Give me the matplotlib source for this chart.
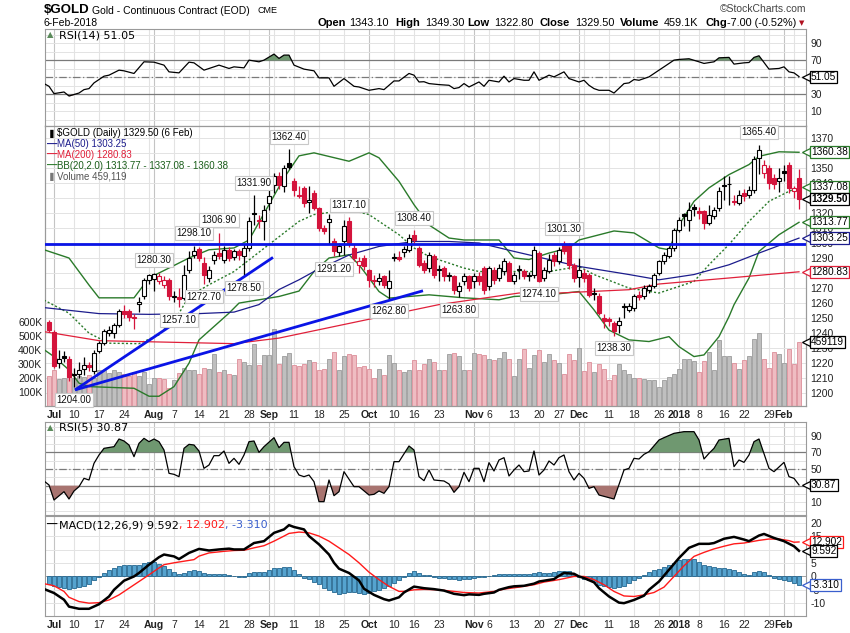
import numpy as np
import pandas as pd
import matplotlib
matplotlib.use("Agg")
import matplotlib.pyplot as plt

W, H = 850, 633

# trading calendar for the continuous contract (days missing from the feed)
holidays = pd.to_datetime(["2017-07-04", "2017-09-04", "2017-10-09", "2017-11-23",
                           "2017-12-25", "2018-01-01", "2018-01-15"])
days = pd.bdate_range("2017-06-30", "2018-02-06")
days = days[~days.isin(holidays)]

tick_dates = ["2017-07-03", "2017-07-10", "2017-07-17", "2017-07-24", "2017-08-01", "2017-08-07",
              "2017-08-14", "2017-08-21", "2017-08-28", "2017-09-01", "2017-09-11", "2017-09-18",
              "2017-09-25", "2017-10-02", "2017-10-10", "2017-10-16", "2017-10-23", "2017-11-01",
              "2017-11-06", "2017-11-13", "2017-11-20", "2017-11-27", "2017-12-01", "2017-12-11",
              "2017-12-18", "2017-12-26", "2018-01-02", "2018-01-08", "2018-01-16", "2018-01-22",
              "2018-01-29", "2018-02-01"]
tick_labels = ["Jul", "10", "17", "24", "Aug", "7", "14", "21", "28", "Sep", "11", "18", "25",
               "Oct", "10", "16", "23", "Nov", "6", "13", "20", "27", "Dec", "11", "18", "26",
               "2018", "8", "16", "22", "29", "Feb"]
month_labels = {"Jul", "Aug", "Sep", "Oct", "Nov", "Dec", "2018", "Feb"}

# daily OHLC, Jun 30 2017 .. Feb 6 2018
opens = [1247.5, 1241.0, 1220.0, 1225.0, 1223.0, 1212.0, 1213.0, 1216.0, 1219.0, 1214.5,
         1227.8, 1233.3, 1240.0, 1240.0, 1245.6, 1255.0, 1254.5, 1251.0, 1259.5, 1264.5,
         1275.5, 1276.2, 1274.5, 1272.2, 1275.6, 1264.0, 1264.0, 1263.3, 1282.2, 1292.2,
         1296.2, 1286.7, 1276.7, 1288.9, 1293.3, 1288.9, 1295.6, 1291.0, 1294.9, 1291.1,
         1296.7, 1319.7, 1315.0, 1314.4, 1326.7, 1338.9, 1344.4, 1337.8, 1353.3, 1341.1,
         1332.2, 1336.7, 1327.3, 1333.3, 1323.3, 1310.0, 1314.0, 1301.1, 1293.8, 1301.1,
         1314.4, 1296.7, 1285.6, 1290.0, 1282.2, 1274.5, 1274.5, 1277.8, 1270.0, 1290.5,
         1290.5, 1294.0, 1295.6, 1305.6, 1296.7, 1286.7, 1283.3, 1291.1, 1282.0, 1283.3,
         1277.8, 1277.8, 1267.8, 1274.5, 1277.8, 1274.5, 1277.8, 1283.3, 1271.1, 1282.2,
         1276.7, 1281.1, 1286.7, 1274.9, 1282.0, 1281.1, 1278.5, 1278.9, 1293.3, 1276.7,
         1281.1, 1292.2, 1287.8, 1299.5, 1298.9, 1285.6, 1277.1, 1280.0, 1278.9, 1266.5,
         1265.0, 1250.0, 1249.5, 1246.7, 1245.6, 1257.5, 1255.6, 1256.7, 1265.6, 1264.5,
         1269.0, 1271.1, 1280.0, 1287.8, 1291.1, 1296.7, 1308.9, 1319.4, 1315.6, 1323.8,
         1321.5, 1321.1, 1313.3, 1317.8, 1323.3, 1338.3, 1339.0, 1328.0, 1326.7, 1333.3,
         1332.2, 1335.5, 1356.7, 1346.7, 1350.0, 1343.3, 1341.1, 1347.8, 1352.2, 1334.5,
         1343.1]
highs = [1249.0, 1242.0, 1229.0, 1228.0, 1225.0, 1216.5, 1221.0, 1224.0, 1221.0, 1229.0,
         1235.0, 1243.0, 1245.0, 1247.0, 1256.0, 1259.0, 1256.0, 1253.0, 1264.0, 1277.0,
         1279.5, 1280.3, 1280.0, 1278.0, 1277.0, 1268.0, 1270.0, 1285.5, 1294.5, 1298.1,
         1297.0, 1291.0, 1285.0, 1295.0, 1306.9, 1298.0, 1297.0, 1296.0, 1296.0, 1299.0,
         1317.0, 1331.9, 1318.9, 1325.5, 1335.5, 1346.7, 1347.0, 1352.0, 1362.4, 1343.0,
         1337.8, 1338.0, 1337.8, 1335.0, 1324.0, 1312.0, 1319.0, 1303.0, 1300.0, 1315.5,
         1317.1, 1299.0, 1291.0, 1292.0, 1283.0, 1278.9, 1280.0, 1279.0, 1282.0, 1293.3,
         1295.0, 1298.0, 1306.0, 1308.4, 1298.0, 1289.0, 1294.0, 1292.5, 1285.5, 1285.0,
         1281.0, 1279.0, 1274.0, 1280.0, 1279.0, 1280.0, 1281.0, 1285.0, 1285.0, 1284.0,
         1286.0, 1290.0, 1288.0, 1281.0, 1285.5, 1283.0, 1281.0, 1298.0, 1295.0, 1284.0,
         1293.0, 1294.0, 1297.0, 1301.3, 1300.0, 1287.0, 1290.0, 1283.0, 1280.0, 1270.0,
         1267.0, 1253.0, 1251.0, 1248.0, 1251.0, 1260.0, 1260.0, 1266.0, 1268.0, 1272.0,
         1273.0, 1280.0, 1289.0, 1294.0, 1298.0, 1310.0, 1317.0, 1320.0, 1327.5, 1326.0,
         1324.0, 1322.0, 1325.0, 1324.0, 1337.0, 1344.5, 1344.5, 1332.0, 1335.0, 1336.0,
         1338.0, 1358.0, 1365.4, 1355.0, 1352.0, 1346.0, 1350.0, 1352.0, 1354.0, 1338.0,
         1349.3]
lows = [1240.5, 1217.0, 1217.0, 1221.0, 1208.0, 1204.0, 1210.0, 1212.0, 1215.0, 1213.0,
        1226.5, 1232.0, 1238.0, 1237.0, 1244.0, 1250.0, 1248.0, 1243.0, 1254.0, 1263.0,
        1273.0, 1267.8, 1273.0, 1270.0, 1262.0, 1261.0, 1257.1, 1262.0, 1280.0, 1290.0,
        1288.0, 1272.7, 1274.0, 1286.0, 1289.5, 1287.0, 1288.0, 1289.0, 1289.0, 1278.5,
        1295.0, 1312.2, 1310.0, 1302.2, 1322.2, 1333.0, 1336.0, 1334.0, 1349.0, 1331.0,
        1330.0, 1324.0, 1320.0, 1322.0, 1307.8, 1306.0, 1299.0, 1291.2, 1291.5, 1292.2,
        1297.0, 1287.8, 1280.0, 1282.0, 1271.0, 1271.0, 1272.0, 1270.0, 1262.8, 1287.8,
        1288.0, 1291.0, 1294.0, 1299.0, 1284.0, 1280.0, 1281.0, 1277.0, 1274.4, 1275.0,
        1274.4, 1266.0, 1263.8, 1272.0, 1268.0, 1270.0, 1272.0, 1266.0, 1269.0, 1273.0,
        1275.0, 1279.0, 1275.0, 1273.0, 1276.0, 1276.0, 1275.0, 1277.0, 1274.1, 1275.0,
        1280.0, 1285.0, 1286.0, 1293.0, 1283.0, 1274.0, 1271.0, 1274.0, 1264.0, 1262.0,
        1252.0, 1243.5, 1244.5, 1238.3, 1240.0, 1250.0, 1254.0, 1255.0, 1262.0, 1263.0,
        1267.0, 1270.0, 1279.0, 1286.0, 1290.0, 1295.0, 1307.0, 1311.0, 1307.8, 1318.0,
        1316.0, 1309.0, 1312.0, 1316.0, 1321.0, 1328.9, 1325.5, 1325.0, 1325.0, 1328.0,
        1330.0, 1333.0, 1345.6, 1343.0, 1336.0, 1336.0, 1334.0, 1341.0, 1333.0, 1330.0,
        1322.8]
closes = [1242.3, 1218.0, 1222.5, 1223.3, 1211.0, 1212.5, 1215.5, 1219.0, 1217.5, 1226.7,
          1233.3, 1241.1, 1242.0, 1245.6, 1254.5, 1252.5, 1251.0, 1250.0, 1260.5, 1275.6,
          1278.5, 1279.3, 1277.8, 1275.6, 1264.5, 1265.0, 1263.0, 1278.9, 1290.0, 1294.4,
          1290.0, 1278.9, 1282.2, 1292.2, 1291.1, 1295.6, 1290.0, 1294.4, 1291.8, 1296.7,
          1314.4, 1319.3, 1314.4, 1322.2, 1331.0, 1344.4, 1338.9, 1350.0, 1350.5, 1335.5,
          1331.1, 1326.7, 1328.9, 1323.3, 1310.0, 1308.2, 1316.0, 1294.4, 1297.8, 1311.1,
          1300.0, 1290.0, 1287.8, 1284.5, 1275.6, 1275.2, 1276.7, 1272.2, 1274.5, 1290.3,
          1289.5, 1296.2, 1303.3, 1302.2, 1285.6, 1282.2, 1292.2, 1278.9, 1282.4, 1277.8,
          1278.9, 1268.9, 1271.1, 1277.8, 1270.0, 1277.8, 1274.5, 1268.9, 1283.3, 1275.6,
          1283.3, 1287.8, 1274.4, 1278.9, 1282.5, 1277.8, 1278.2, 1295.6, 1274.4, 1282.2,
          1288.9, 1287.8, 1295.6, 1295.0, 1285.6, 1276.7, 1282.2, 1277.0, 1265.6, 1265.8,
          1253.3, 1248.0, 1247.8, 1241.1, 1247.8, 1258.0, 1258.3, 1264.5, 1264.2, 1270.0,
          1271.1, 1278.9, 1287.8, 1292.2, 1296.7, 1308.9, 1315.6, 1317.8, 1322.2, 1322.5,
          1320.0, 1313.3, 1318.9, 1322.2, 1334.5, 1337.9, 1339.2, 1327.0, 1332.2, 1331.1,
          1335.5, 1355.6, 1362.2, 1352.2, 1340.0, 1339.5, 1343.3, 1346.7, 1336.7, 1336.5,
          1329.5]
prev_close_first = 1247.0
volume_k = [213, 260, 190, 200, 250, 200, 215, 205, 220, 200, 255, 261, 235, 261, 244, 232, 213,
            244, 213, 244, 155, 204, 204, 196, 132, 189, 237, 276, 261, 256, 232, 276, 268, 376,
            244, 261, 232, 220, 340, 316, 292, 448, 292, 364, 364, 549, 299, 357, 381, 292, 285,
            299, 328, 316, 261, 268, 340, 388, 256, 357, 376, 364, 280, 285, 268, 204, 268, 220,
            364, 309, 256, 244, 261, 328, 256, 299, 340, 316, 256, 261, 371, 381, 357, 256, 261,
            381, 371, 364, 340, 328, 347, 388, 340, 213, 340, 412, 275, 369, 400, 316, 376, 328,
            309, 228, 371, 332, 419, 251, 316, 244, 304, 268, 189, 220, 299, 256, 232, 204, 204,
            196, 189, 184, 136, 189, 208, 228, 268, 340, 340, 323, 244, 321, 388, 256, 472, 357,
            357, 309, 268, 328, 357, 477, 525, 335, 275, 388, 371, 309, 412, 299, 459]
last_volume = 459119

# overlays (day index, value)
ma50_idx = [-1, 10, 20, 30, 37, 42, 46, 50, 53, 60, 66, 73, 80, 86, 93, 100, 106, 116, 122, 129, 136, 142, 150]
ma50 = [1257, 1253, 1252.5, 1253, 1254, 1259, 1269, 1275.5, 1281, 1292, 1297.7, 1301, 1301, 1300,
        1294.4, 1289, 1284.4, 1279, 1275.5, 1279, 1285.5, 1293.3, 1303.25]
ma200_idx = [-1, 10, 37, 46, 78, 94, 102, 116, 122, 136, 150]
ma200 = [1241, 1235, 1233, 1236.7, 1259, 1266.7, 1266.7, 1268.9, 1272.7, 1276.7, 1280.83]
bb_up_idx = [-1, 4, 8, 10, 17, 20, 28, 32, 37, 40, 44, 47, 50, 53, 60, 64, 66, 70, 73, 76, 80, 83,
             90, 93, 96, 100, 104, 106, 113, 117, 122, 124, 126, 129, 132, 136, 140, 142, 146, 150]
bb_up = [1295.5, 1290, 1272, 1263.5, 1263.5, 1276.7, 1290, 1295.5, 1296.7, 1302, 1325.5, 1343.3,
         1358, 1360, 1354.4, 1360, 1356.7, 1341, 1325.5, 1312, 1303.3, 1302, 1302, 1290, 1289,
         1293.3, 1296.7, 1302, 1308, 1306.7, 1296.7, 1295.5, 1312, 1327.7, 1336.7, 1345.5,
         1352.2, 1357.7, 1360.7, 1360.38]
bb_lo_idx = [-1, 1, 4, 6, 8, 17, 20, 22, 25, 28, 30, 36, 38, 44, 46, 50, 53, 56, 60, 62, 64, 66,
             68, 76, 83, 90, 93, 100, 106, 109, 112, 116, 120, 124, 126, 129, 131, 134, 136, 137,
             140, 142, 146, 150]
bb_lo = [1229, 1224.4, 1215.5, 1206.7, 1204.4, 1203.3, 1198, 1198, 1204.4, 1220, 1235.5, 1253.3,
         1260, 1263.3, 1264.4, 1268, 1281, 1290, 1292.2, 1285.5, 1276.7, 1267.7, 1263.3, 1265.5,
         1263.5, 1262.2, 1264.4, 1265.5, 1267.7, 1255.5, 1242, 1235.5, 1234.4, 1237.7, 1231,
         1224.4, 1225.5, 1237.7, 1251, 1258.9, 1276.7, 1294.4, 1305.5, 1313.77]
bb_mid_idx = [-1, 4, 8, 12, 18, 22, 26, 28, 32, 37, 44, 50, 53, 60, 64, 70, 73, 76, 83, 86, 93,
              100, 106, 109, 116, 122, 129, 132, 136, 140, 144, 148, 150]
bb_mid = [1262, 1253.3, 1240, 1233.3, 1233, 1238.9, 1253.3, 1264.4, 1272.2, 1281, 1299, 1314.4,
          1318.9, 1322.2, 1318.9, 1305.5, 1296.7, 1291, 1283.3, 1281, 1281, 1281, 1284.4, 1279,
          1270, 1266.7, 1274.4, 1285.5, 1299, 1314.4, 1327.7, 1334.4, 1337.08]

# hand drawn lines (day index, price)
support_level = 1299.3
trend1_idx, trend1 = [5.2, 44.8], [1202.2, 1290.4]
trend2_idx, trend2 = [5.2, 74.8], [1202.2, 1268.2]

# labelled swing highs / lows
swing_idx = [5, 21, 26, 29, 31, 34, 39, 41, 48, 57, 60, 68, 73, 82, 98, 103, 113, 142]
swing_kind = ["L", "H", "L", "H", "L", "H", "L", "H", "H", "L", "H", "L", "H", "L", "L", "H", "L", "H"]

rsi14_idx = [-1, 0, 1, 3, 4, 6, 7, 8, 9, 11, 12, 14, 15, 17, 19, 21, 23, 24, 26, 28, 29, 31, 33, 34,
             36, 37, 39, 40, 42, 43, 45, 46, 47, 48, 49, 51, 53, 54, 56, 57, 59, 61, 62, 64, 66, 67,
             69, 70, 72, 73, 74, 75, 76, 78, 80, 81, 82, 83, 84, 86, 87, 88, 90, 91, 92, 93, 95, 96,
             97, 98, 100, 101, 103, 104, 106, 107, 108, 109, 110, 112, 113, 115, 116, 117, 118, 120,
             122, 123, 125, 126, 128, 130, 131, 133, 134, 136, 137, 139, 140, 141, 142, 144, 146,
             147, 148, 149, 150]
rsi14 = [42.8, 39.6, 31.0, 32.9, 28.2, 31.7, 35.7, 36.9, 43.6, 51.5, 52.7, 58.6, 57.8, 54.7, 68.4,
         68.0, 64.5, 56.6, 55.4, 68.0, 67.2, 58.6, 62.5, 64.5, 60.6, 62.5, 61.3, 70.4, 68.4, 70.4,
         77.5, 72.4, 76.3, 76.3, 64.5, 59.8, 57.8, 49.5, 49.5, 39.6, 48.7, 39.6, 38.8, 34.9, 36.9,
         35.7, 45.9, 45.9, 54.7, 52.7, 44.7, 45.0, 42.8, 41.6, 40.8, 36.9, 38.1, 42.8, 38.8, 44.7,
         39.6, 46.7, 44.7, 51.5, 44.7, 48.7, 46.7, 46.7, 56.6, 46.7, 52.7, 50.7, 56.6, 48.7, 44.7,
         46.7, 40.8, 36.9, 34.9, 34.9, 31.7, 42.8, 43.6, 47.6, 46.7, 50.7, 58.6, 62.5, 70.4, 71.2,
         72.0, 68.4, 66.5, 68.4, 73.1, 73.6, 65.7, 67.2, 67.6, 73.6, 75.5, 59.8, 60.6, 62.5, 56.6,
         55.4, 51.05]

rsi5_idx = [-1, 0, 1, 3, 4, 5, 6, 7, 8, 9, 10, 11, 13, 14, 15, 16, 17, 18, 19, 20, 21, 22, 23, 24,
            25, 26, 27, 28, 29, 30, 31, 32, 33, 34, 35, 36, 37, 38, 39, 40, 41, 42, 43, 45, 46, 47,
            48, 49, 50, 51, 52, 53, 54, 55, 56, 57, 58, 59, 61, 62, 64, 65, 66, 67, 68, 69, 70, 72,
            73, 74, 75, 76, 77, 79, 80, 81, 82, 83, 84, 85, 86, 87, 88, 89, 90, 91, 92, 93, 94, 95,
            96, 97, 98, 99, 100, 101, 102, 103, 104, 105, 106, 107, 108, 109, 110, 112, 113, 115,
            116, 117, 118, 119, 120, 122, 123, 125, 127, 129, 130, 131, 132, 133, 134, 136, 137,
            138, 139, 140, 141, 142, 144, 145, 147, 148, 149, 150]
rsi5 = [35.6, 30.8, 12.8, 22.8, 14.0, 23.6, 28.8, 38.8, 36.8, 56.8, 66.8, 74.8, 76.8, 86.0, 83.6,
        78.8, 64.8, 80.8, 86.8, 82.8, 86.0, 82.8, 72.8, 44.8, 43.6, 40.8, 74.8, 79.6, 78.8, 71.6,
        50.8, 54.8, 66.0, 66.0, 71.6, 56.8, 62.8, 55.6, 66.8, 82.8, 83.6, 70.0, 76.8, 87.6, 75.6,
        82.0, 82.0, 52.8, 42.8, 40.8, 42.8, 34.8, 10.8, 10.8, 36.8, 18.0, 22.8, 46.8, 28.8, 28.8,
        18.8, 19.6, 23.6, 20.8, 28.8, 58.8, 58.8, 77.6, 72.8, 40.8, 36.0, 48.8, 36.8, 35.6, 32.0,
        22.0, 28.8, 46.0, 34.8, 50.8, 50.8, 34.8, 57.6, 47.6, 60.8, 63.6, 41.6, 48.8, 54.8, 46.8,
        47.6, 71.6, 42.8, 48.8, 59.6, 54.8, 63.6, 66.8, 46.8, 36.8, 44.8, 38.8, 26.8, 28.8, 18.8,
        15.6, 14.0, 48.8, 50.8, 62.8, 62.0, 67.6, 70.8, 84.8, 87.6, 92.8, 94.8, 94.8, 84.8, 62.0,
        68.8, 74.8, 84.8, 86.8, 52.8, 60.8, 58.0, 66.8, 82.8, 86.0, 50.8, 46.8, 58.0, 40.8, 38.8,
        30.87]

macd_idx = [-1, 1, 3, 4, 6, 8, 10, 12, 13, 15, 17, 18, 20, 22, 23, 25, 26, 28, 30, 32, 34, 36, 37,
            39, 41, 43, 45, 47, 48, 49, 51, 52, 54, 56, 57, 58, 60, 62, 63, 65, 67, 68, 70, 71, 73,
            75, 77, 79, 81, 83, 84, 86, 87, 89, 90, 92, 93, 95, 97, 98, 99, 101, 102, 103, 105, 106,
            107, 109, 110, 112, 114, 115, 117, 119, 120, 122, 124, 126, 128, 130, 132, 133, 135,
            137, 139, 140, 142, 143, 145, 147, 149, 150]
macd = [-4.7, -6.2, -8.7, -11.3, -12.1, -12.1, -10.4, -7.5, -5.0, -1.6, 0.0, 1.3, 4.4, 7.2, 8.2,
        7.5, 6.5, 8.8, 10.3, 9.7, 10.1, 10.4, 10.1, 10.1, 12.5, 13.2, 16.3, 17.6, 19.2, 18.5, 17.6,
        15.1, 12.0, 8.2, 5.1, 2.9, 1.3, -1.5, -4.6, -6.9, -8.5, -9.0, -7.8, -6.0, -3.8, -4.4, -4.75,
        -5.3, -6.5, -7.0, -6.7, -6.9, -6.5, -6.0, -5.0, -4.0, -3.7, -3.5, -2.7, -1.9, -1.6, -1.0,
        0.25, 1.3, 1.0, 0.0, -0.6, -2.2, -4.4, -7.5, -9.8, -10.0, -8.8, -7.2, -5.0, -1.9, 2.5, 6.9,
        10.7, 12.2, 12.2, 12.5, 14.1, 14.8, 13.8, 13.2, 15.3, 15.9, 14.4, 13.2, 11.3, 9.592]
signal_idx = [-1, 1, 3, 4, 6, 8, 10, 12, 14, 16, 18, 20, 22, 23, 25, 27, 29, 30, 32, 35, 37, 39, 41,
              43, 45, 47, 48, 50, 52, 54, 56, 58, 60, 62, 64, 66, 68, 70, 71, 73, 75, 78, 81, 83, 86,
              89, 91, 94, 97, 99, 102, 105, 107, 109, 111, 113, 115, 117, 119, 121, 123, 125, 127,
              129, 131, 133, 135, 137, 139, 142, 144, 146, 148, 149, 150]
signal = [-2.7, -3.5, -5.6, -7.8, -9.4, -10.0, -9.8, -8.8, -6.9, -4.4, -1.9, 0.6, 3.2, 4.4, 5.1,
          5.7, 6.3, 7.6, 8.8, 9.4, 9.7, 9.8, 10.7, 11.5, 13.2, 15.1, 16.1, 16.6, 16.3, 15.1, 13.2,
          10.7, 8.2, 5.1, 1.6, -1.2, -3.7, -5.6, -5.6, -5.0, -4.85, -5.0, -5.6, -6.0, -6.2, -5.6,
          -4.75, -4.0, -3.1, -2.1, -1.2, 0.0, 0.0, -1.2, -3.1, -5.6, -7.3, -7.5, -6.9, -6.0, -4.0,
          0.0, 4.0, 7.5, 9.0, 10.3, 11.3, 12.2, 12.5, 13.5, 14.0, 14.0, 13.4, 12.8, 12.902]
macd_hist = [-2.75, -3.4, -4.0, -4.4, -4.6, -4.4, -4.0, -3.6, -2.75, -1.25, -0.25, 1.25, 2.25, 3.1,
             3.9, 4.25, 4.25, 4.1, 4.4, 5.0, 5.4, 5.4, 4.75, 3.9, 2.9, 1.6, 1.0, 1.4, 2.0, 2.25, 2.1,
             1.4, 0.9, 0.75, 0.75, 0.75, 0.5, 0.1, -0.1, -0.25, 1.4, 1.6, 1.6, 1.6, 2.25, 3.1, 3.25,
             3.5, 3.5, 2.25, 1.0, -0.6, -1.1, -1.9, -2.75, -4.4, -4.9, -5.9, -6.5, -6.25, -5.9,
             -5.9, -6.1, -6.5, -6.1, -5.6, -4.9, -4.4, -3.4, -2.4, -1.5, -0.25, 1.4, 1.9, 1.25, 0.6,
             0.4, -0.25, -0.6, -0.6, -0.9, -1.1, -1.25, -1.1, -0.9, -0.6, -0.25, -0.1, 0.0, 0.4,
             0.9, 1.0, 0.9, 0.9, 1.0, 0.9, 1.0, 1.4, 1.6, 1.25, 1.4, 1.6, 1.9, 2.1, 1.9, 0.4,
             -0.25, -0.9, -1.5, -2.1, -3.1, -3.75, -4.1, -4.4, -4.1, -3.4, -2.4, -1.5, -0.6, 0.6,
             1.6, 2.25, 2.9, 3.6, 4.4, 5.1, 6.0, 6.6, 6.6, 6.4, 5.4, 4.4, 3.9, 3.4, 3.1, 3.1, 2.9,
             2.25, 1.6, 0.9, 0.6, 1.6, 2.1, 1.6, 0.6, -0.5, -0.9, -1.25, -1.6, -2.4, -3.31]

# ---------------------------------------------------------------------------
RED = "#d4143c"
PINK_F, PINK_E = "#efbcc2", "#dc8e99"
GREY_F, GREY_E = "#bfbfbf", "#9c9c9c"
BBG = "#2a7a2a"
NAVY = "#1c1c8c"
MA200C = "#e0203a"
GRID = "#e3e3e3"
MGRID = "#c4c4c4"
plt.rcParams["font.family"] = ["Liberation Sans", "DejaVu Sans"]
FS = 7.5

x = np.arange(len(days))
o, hi, lo, c = map(np.array, (opens, highs, lows, closes))
prev = np.concatenate([[prev_close_first], c[:-1]])
down = c < prev
tick_pos = [days.get_loc(pd.Timestamp(d)) for d in tick_dates]
week_start = [i for i in range(1, len(days)) if days[i].weekday() < days[i - 1].weekday()]
grid_pos = sorted(set(week_start) | set(tick_pos))
month_pos = [p for p, l in zip(tick_pos, tick_labels) if l in month_labels]

fig = plt.figure(figsize=(W / 100, H / 100), dpi=100)


def rect(top, bottom):
    return [45 / W, 1 - bottom / H, 761 / W, (bottom - top) / H]


def ftext(px, py, s, **kw):
    kw.setdefault("va", "center")
    kw.setdefault("fontsize", FS)
    return fig.text(px / W, 1 - py / H, s, **kw)


ax_rsi = fig.add_axes(rect(29, 125.5))
ax_vol = fig.add_axes(rect(125.5, 406))
ax_px = fig.add_axes(rect(125.5, 406))
ax_r5 = fig.add_axes(rect(421.5, 515))
ax_m = fig.add_axes(rect(515.5, 616))
ax_px.set_zorder(ax_vol.get_zorder() + 1)
ax_px.patch.set_visible(False)

for ax in (ax_rsi, ax_vol, ax_px, ax_r5, ax_m):
    ax.set_xlim(-0.8, 151.4)
    for sp in ax.spines.values():
        sp.set_color("#9a9a9a")
        sp.set_linewidth(0.8)
    ax.tick_params(length=0, labelsize=FS, colors="#222222", pad=3)
    ax.set_xticks([])
for ax in (ax_rsi, ax_vol, ax_r5, ax_m):
    for p in grid_pos:
        ax.axvline(p, color=MGRID if p in month_pos else GRID, lw=0.8, zorder=0)
for ax in (ax_rsi, ax_px, ax_r5, ax_m):
    ax.yaxis.tick_right()


def rsi_panel(ax, xs, vals, ylim):
    ax.set_ylim(*ylim)
    for g in range(0, 101, 10):
        ax.axhline(g, color=GRID, lw=0.7, zorder=0)
    ax.axhline(70, color="#7a7a7a", lw=0.9, zorder=1)
    ax.axhline(30, color="#7a7a7a", lw=0.9, zorder=1)
    ax.axhline(50, color="#7a7a7a", lw=0.9, ls=(0, (6, 2, 1, 2)), zorder=1)
    xs, vals = np.array(xs, float), np.array(vals, float)
    ax.fill_between(xs, vals, 70, where=vals >= 70, interpolate=True, color="#6f9870", lw=0, zorder=2)
    ax.fill_between(xs, vals, 30, where=vals <= 30, interpolate=True, color="#a87470", lw=0, zorder=2)
    ax.plot(xs, vals, color="black", lw=0.9, zorder=3)
    ax.set_yticks([10, 30, 50, 70, 90])


rsi_panel(ax_rsi, rsi14_idx, rsi14, (-6.5, 107))
rsi_panel(ax_r5, rsi5_idx, rsi5, (-5.2, 107))

# volume behind the price bars
VOL_TOP = 2011
ax_vol.set_ylim(0, VOL_TOP)
ax_vol.bar(x, volume_k, width=0.8, color=np.where(down, PINK_F, GREY_F),
           edgecolor=np.where(down, PINK_E, GREY_E), linewidth=0.6, zorder=2)
ax_vol.set_yticks([100, 200, 300, 400, 500, 600])
ax_vol.set_yticklabels(["100K", "200K", "300K", "400K", "500K", "600K"])
ax_vol.tick_params(axis="y", pad=2)

PLO, PHI = 1191.5, 1378.2
ax_px.set_ylim(PLO, PHI)
for g in np.arange(1200, 1375, 10):
    ax_vol.axhline((g - PLO) / (PHI - PLO) * VOL_TOP, color=GRID, lw=0.7, zorder=0)
ax_px.set_yticks(np.arange(1200, 1371, 10))

ax_px.plot(bb_up_idx, bb_up, color=BBG, lw=1.0, zorder=3)
ax_px.plot(bb_lo_idx, bb_lo, color=BBG, lw=1.0, zorder=3)
ax_px.plot(bb_mid_idx, bb_mid, color=BBG, lw=1.0, ls=(0, (1.5, 1.5)), zorder=3)
ax_px.plot(ma50_idx, ma50, color=NAVY, lw=0.9, zorder=3)
ax_px.plot(ma200_idx, ma200, color=MA200C, lw=0.9, zorder=3)

col = np.where(down, RED, "black")
ax_px.vlines(x, lo, hi, colors=col, lw=0.9, zorder=4)
body_lo = np.minimum(o, c)
body_h = np.maximum(np.abs(c - o), 0.35)
face = [cc if cl < op else "white" for cc, cl, op in zip(col, c, o)]
ax_px.bar(x, body_h, bottom=body_lo, width=0.72, color=face, edgecolor=col, linewidth=0.8, zorder=5)

ax_px.axhline(support_level, color="#0a14e6", lw=2.0, zorder=6)
ax_px.plot(trend1_idx, trend1, color="#0a14e6", lw=2.0, zorder=6, solid_capstyle="butt")
ax_px.plot(trend2_idx, trend2, color="#0a14e6", lw=2.0, zorder=6, solid_capstyle="butt")

for i, k in zip(swing_idx, swing_kind):
    v = hi[i] if k == "H" else lo[i]
    ax_px.annotate(f"{v:.2f}", xy=(i, v), xytext=(0, 9 if k == "H" else -9),
                   textcoords="offset points", ha="center", va="center", fontsize=7,
                   color="#111111", zorder=8,
                   bbox=dict(boxstyle="square,pad=0.2", fc="white", ec="#c8c8c8", lw=0.8))


def tag(ax, y, s, ec, tc="black", fw="normal"):
    ax.annotate(s, xy=(1, y), xycoords=ax.get_yaxis_transform(), xytext=(3.6, 0),
                textcoords="offset points", ha="left", va="center", fontsize=7.3, color=tc,
                fontweight=fw, annotation_clip=False, zorder=10,
                bbox=dict(boxstyle="square,pad=0.1", fc="white", ec=ec, lw=0.9))
    ax.plot([1.0], [y], marker="<", ms=5.5, mfc="white", mec=ec, mew=0.9,
            transform=ax.get_yaxis_transform(), clip_on=False, zorder=9)


tag(ax_px, bb_up[-1], f"{bb_up[-1]:.2f}", BBG)
tag(ax_px, bb_mid[-1], f"{bb_mid[-1]:.2f}", BBG)
tag(ax_px, closes[-1], f"{closes[-1]:.2f}", "black", fw="bold")
tag(ax_px, bb_lo[-1], f"{bb_lo[-1]:.2f}", BBG)
tag(ax_px, ma50[-1], f"{ma50[-1]:.2f}", NAVY)
tag(ax_px, ma200[-1], f"{ma200[-1]:.2f}", MA200C)
tag(ax_px, last_volume / 1000 / VOL_TOP * (PHI - PLO) + PLO, f"{last_volume}", "black")
tag(ax_rsi, rsi14[-1], f"{rsi14[-1]:.2f}", "black")
tag(ax_r5, rsi5[-1], f"{rsi5[-1]:.2f}", "black")

# MACD
ax_m.set_ylim(-14.8, 22.8)
for g in range(-10, 21, 5):
    ax_m.axhline(g, color=GRID, lw=0.7, zorder=0)
ax_m.axhline(0, color="#9a9a9a", lw=0.6, zorder=1)
ax_m.bar(x, macd_hist, width=0.95, color="#55a3cf", edgecolor="#24668f", linewidth=0.6, zorder=2)
ax_m.plot(signal_idx, signal, color="#ff1a1a", lw=1.0, zorder=3)
ax_m.plot(macd_idx, macd, color="black", lw=1.8, zorder=4)
ax_m.set_yticks([-10, -5, 0, 5, 10, 15, 20])
ax_m.set_yticklabels(["-10", "-5", "0", "5", "10", "15", "20"])
tag(ax_m, signal[-1], f"{signal[-1]:.3f}", "#ff1a1a")
tag(ax_m, macd[-1], f"{macd[-1]:.3f}", "black")
tag(ax_m, macd_hist[-1], f"{macd_hist[-1]:.3f}", "#3a5fcd")

# date labels under the price panel and the MACD panel
for ax in (ax_px, ax_m):
    ax.set_xticks(tick_pos)
    ax.set_xticklabels(tick_labels)
    ax.tick_params(axis="x", pad=3, colors="#222222")
    for t in ax.get_xticklabels():
        if t.get_text() in month_labels:
            t.set_fontweight("bold")

# header and legends
ftext(44, 10, "$GOLD", fontsize=9.5, fontweight="bold")
ftext(92, 10.5, "Gold - Continuous Contract (EOD)", fontsize=7.5)
ftext(258, 10.5, "CME", fontsize=6.5)
ftext(44, 23, "6-Feb-2018", fontsize=7.5)
ftext(806, 9.5, "\u00a9StockCharts.com", fontsize=7.5, ha="right", color="#444444")
head = [(318, "Open", True), (349, "1343.10", False), (395, "High", True), (425, "1349.30", False),
        (467, "Low", True), (494, "1322.80", False), (539, "Close", True), (575, "1329.50", False),
        (620, "Volume", True), (664, "459.1K", False), (705, "Chg", True), (727, "-7.00 (-0.52%)", False)]
for hx, s, b in head:
    ftext(hx, 23, s, fontsize=8 if b else 7.8, fontweight="bold" if b else "normal")
ftext(799, 23, "\u25bc", fontsize=5, color="#b01020", family="DejaVu Sans")

ftext(59, 35, "RSI(14) 51.05", fontsize=8, family="DejaVu Sans")
ftext(47, 35, "\u25b2", fontsize=6, color="#5a8a5a", family="DejaVu Sans")
ftext(59, 428, "RSI(5) 30.87", fontsize=8, family="DejaVu Sans")
ftext(47, 428, "\u25b2", fontsize=6, color="#5a8a5a", family="DejaVu Sans")

LF = 7
ftext(47, 133.5, "\u2590", fontsize=6, family="DejaVu Sans")
ftext(57, 133.5, "$GOLD (Daily) 1329.50 (6 Feb)", fontsize=LF)
ftext(47, 144.5, "\u2014", color=NAVY, fontweight="bold")
ftext(57, 144.5, "MA(50) 1303.25", color=NAVY, fontsize=LF)
ftext(47, 155, "\u2014", color=MA200C, fontweight="bold")
ftext(57, 155, "MA(200) 1280.83", color=MA200C, fontsize=LF)
ftext(47, 166, "\u2014", color=BBG, fontweight="bold")
ftext(57, 166, "BB(20,2.0) 1313.77 - 1337.08 - 1360.38", color="#1a5e1a", fontsize=LF)
ftext(47, 176.5, "\u2590", fontsize=6, color="#777777", family="DejaVu Sans")
ftext(57, 176.5, "Volume 459,119", color="#555555", fontsize=LF)

# MACD legend, three colour pieces side by side
ftext(47, 525, "\u2014", fontweight="bold")
t1 = ftext(59, 525, "MACD(12,26,9) 9.592", fontsize=8, family="DejaVu Sans")
t2 = ftext(0, 525, ", 12.902", fontsize=8, family="DejaVu Sans", color="#ff1a1a")
t3 = ftext(0, 525, ", -3.310", fontsize=8, family="DejaVu Sans", color="#3a5fcd")
fig.canvas.draw()
r = fig.canvas.get_renderer()
t2.set_x(t1.get_window_extent(r).x1 / W)
t3.set_x(t2.get_window_extent(r).x1 / W)

fig.savefig("out.png", dpi=100)
